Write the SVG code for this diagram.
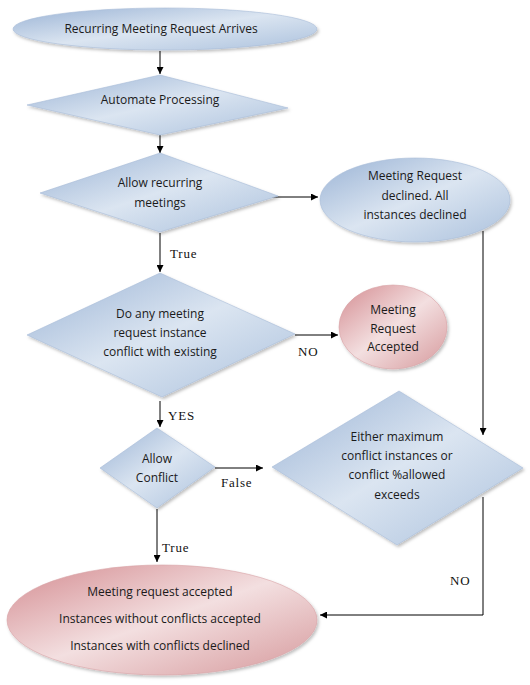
<svg xmlns="http://www.w3.org/2000/svg" width="530" height="685" viewBox="0 0 530 685">
<defs>
<linearGradient id="blue" x1="0" y1="0" x2="1" y2="1">
<stop offset="0" stop-color="#9ab3d5"/>
<stop offset="0.5" stop-color="#dbe5f1"/>
<stop offset="1" stop-color="#abc1dd"/>
</linearGradient>
<linearGradient id="pink" x1="0" y1="0" x2="1" y2="1">
<stop offset="0" stop-color="#d48c91"/>
<stop offset="0.5" stop-color="#f3dfe0"/>
<stop offset="1" stop-color="#d6999c"/>
</linearGradient>
<filter id="sh" x="-10%" y="-10%" width="130%" height="130%">
<feDropShadow dx="1.5" dy="2" stdDeviation="1.5" flood-color="#000" flood-opacity="0.25"/>
</filter>
<marker id="arr" viewBox="0 0 10 10" refX="10" refY="5" markerWidth="7" markerHeight="7" orient="auto" markerUnits="userSpaceOnUse">
<path d="M0,0 L10,5 L0,10 z" fill="#000"/>
</marker>
</defs>
<style>
.b{fill:url(#blue);stroke:#a7bcd8;stroke-width:0.6;filter:url(#sh)}
.p{fill:url(#pink);stroke:#d8a3a6;stroke-width:0.6;filter:url(#sh)}
.t{font-family:"Open Sans","Liberation Sans",sans-serif;font-size:12px;fill:#1a1a1a;text-anchor:middle}
.l{font-family:"Liberation Serif","DejaVu Serif",serif;font-size:13px;fill:#111;letter-spacing:0.8px}
.c{fill:none;stroke:#000;stroke-width:1}
</style>
<rect width="530" height="685" fill="#fff"/>

<g id="connectors">
<line class="c" x1="160" y1="51" x2="160" y2="74" marker-end="url(#arr)"/>
<line class="c" x1="160" y1="135" x2="160" y2="153" marker-end="url(#arr)"/>
<line class="c" x1="272" y1="197" x2="318" y2="197" marker-end="url(#arr)"/>
<line class="c" x1="160" y1="233" x2="160" y2="272" marker-end="url(#arr)"/>
<polyline class="c" points="483,231 483,435" marker-end="url(#arr)"/>
<line class="c" x1="295" y1="335" x2="338" y2="335" marker-end="url(#arr)"/>
<line class="c" x1="160" y1="401" x2="160" y2="427" marker-end="url(#arr)"/>
<line class="c" x1="215" y1="468" x2="263" y2="468" marker-end="url(#arr)"/>
<polyline class="c" points="483,497 483,615 320,615" marker-end="url(#arr)"/>
<line class="c" x1="157" y1="509" x2="157" y2="562" marker-end="url(#arr)"/>
<text class="l" x="170" y="258">True</text>
<text class="l" x="298" y="356">NO</text>
<text class="l" x="168" y="420">YES</text>
<text class="l" x="221" y="487">False</text>
<text class="l" x="450" y="585">NO</text>
<text class="l" x="162" y="552">True</text>
</g>

<g id="start">
<ellipse class="b" cx="165" cy="29" rx="152" ry="21"/>
<text class="t" x="161" y="33">Recurring Meeting Request Arrives</text>
</g>

<g id="automate">
<polygon class="b" points="160,75 288,108 160,135 27,105"/>
<text class="t" x="160" y="104">Automate Processing</text>
</g>

<g id="allowRecurring">
<polygon class="b" points="160,153 278,196 160,232 40,193"/>
<text class="t" x="160" y="187">Allow recurring</text>
<text class="t" x="160" y="207">meetings</text>
</g>

<g id="declined">
<ellipse class="b" cx="415" cy="200" rx="95" ry="42"/>
<text class="t" x="415" y="180">Meeting Request</text>
<text class="t" x="415" y="200">declined. All</text>
<text class="t" x="415" y="219">instances declined</text>
</g>

<g id="conflictCheck">
<polygon class="b" points="160,273 295,334 162,397 27,335"/>
<text class="t" x="160" y="318">Do any meeting</text>
<text class="t" x="160" y="337">request instance</text>
<text class="t" x="160" y="356">conflict with existing</text>
</g>

<g id="accepted">
<ellipse class="p" cx="393" cy="327" rx="54" ry="42"/>
<text class="t" x="393" y="314">Meeting</text>
<text class="t" x="393" y="333">Request</text>
<text class="t" x="393" y="351">Accepted</text>
</g>

<g id="allowConflict">
<polygon class="b" points="157,428 215,467 157,508 100,468"/>
<text class="t" x="157" y="463">Allow</text>
<text class="t" x="157" y="482">Conflict</text>
</g>

<g id="exceeds">
<polygon class="b" points="399,391 523,468 397,545 272,467"/>
<text class="t" x="397" y="441">Either maximum</text>
<text class="t" x="397" y="460">conflict instances or</text>
<text class="t" x="397" y="479">conflict %allowed</text>
<text class="t" x="397" y="499">exceeds</text>
</g>

<g id="final">
<ellipse class="p" cx="162" cy="620" rx="155" ry="55"/>
<text class="t" x="160" y="596">Meeting request accepted</text>
<text class="t" x="160" y="623">Instances without conflicts accepted</text>
<text class="t" x="160" y="650">Instances with conflicts declined</text>
</g>
</svg>
